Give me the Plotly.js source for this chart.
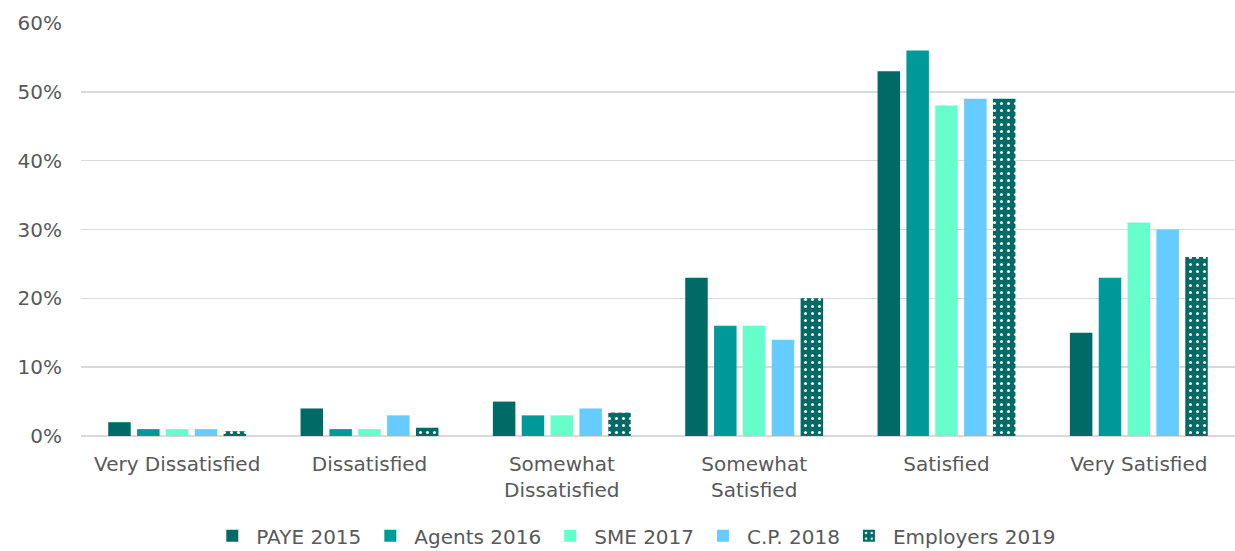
<!DOCTYPE html>
<html><head><meta charset="utf-8">
<script src="https://cdn.plot.ly/plotly-3.0.1.min.js"></script>
<style>body{margin:0;background:#fff}#c{width:1235px;height:551px}</style>
</head><body><div id="c"></div>
<script>
const categories = ["Very Dissatisfied", "Dissatisfied", "Somewhat<br>Dissatisfied", "Somewhat<br>Satisfied", "Satisfied", "Very Satisfied"];
const paye2015 = [0.02, 0.04, 0.05, 0.23, 0.53, 0.15];
const agents2016 = [0.01, 0.01, 0.03, 0.16, 0.56, 0.23];
const sme2017 = [0.01, 0.01, 0.03, 0.16, 0.48, 0.31];
const cp2018 = [0.01, 0.03, 0.04, 0.14, 0.49, 0.30];
const employers2019 = [0.007, 0.012, 0.034, 0.20, 0.49, 0.26];
const yTicks = [0, 0.1, 0.2, 0.3, 0.4, 0.5, 0.6];

const seriesDefs = [
  {name: "PAYE 2015", y: paye2015, color: "#006B66"},
  {name: "Agents 2016", y: agents2016, color: "#009999"},
  {name: "SME 2017", y: sme2017, color: "#66FFCC"},
  {name: "C.P. 2018", y: cp2018, color: "#66CCFF"},
  {name: "Employers 2019", y: employers2019, color: "#006B66", pattern: true}
];
const data = seriesDefs.map(s => {
  const m = {color: s.color};
  if (s.pattern) {
    m.pattern = {shape: ".", fgcolor: "#ffffff", bgcolor: "#006B66", size: 7, solidity: 0.15, fillmode: "replace"};
  }
  return {type: "bar", name: s.name, x: categories, y: s.y, marker: m, hoverinfo: "none"};
});
const font = {family: "'DejaVu Sans', Verdana, sans-serif", size: 20, color: "#595959"};
const layout = {
  width: 1235, height: 551,
  margin: {l: 81, r: 0, t: 23, b: 115},
  paper_bgcolor: "#fff", plot_bgcolor: "#fff",
  font: font,
  barmode: "group", bargap: 0.25, bargroupgap: 0.22,
  showlegend: true,
  legend: {orientation: "h", xref: "container", yref: "container", x: 0.514, xanchor: "center", y: 0.063, yanchor: "top",
    font: {family: font.family, size: 20, color: "#595959"}, itemwidth: 38, tracegroupgap: 0},
  xaxis: {type: "category", tickfont: font, showgrid: false, showline: false, ticks: "", automargin: false, ticklabelstandoff: 14},
  yaxis: {range: [0, 0.6], tickvals: yTicks, tickformat: ".0%", tickfont: font, showgrid: true,
    gridcolor: "#d9d9d9", gridwidth: 1.5, zeroline: true, zerolinecolor: "#d9d9d9", zerolinewidth: 1.5,
    showline: false, ticks: "", ticklen: 0, automargin: false, ticklabelstandoff: 18}
};
Plotly.newPlot("c", data, layout, {displayModeBar: false, staticPlot: true});
</script></body></html>
